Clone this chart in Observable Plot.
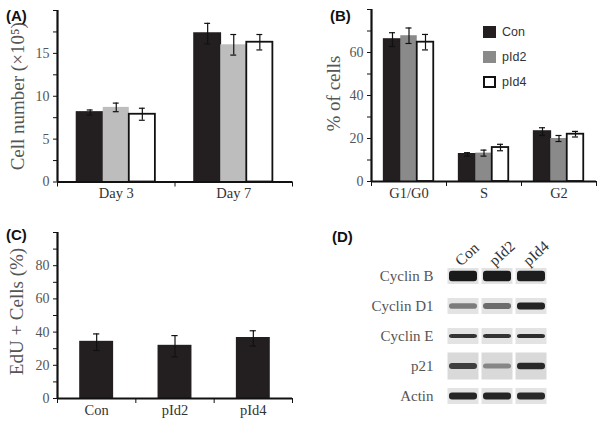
<!DOCTYPE html>
<html><head><meta charset="utf-8">
<script src="https://cdn.jsdelivr.net/npm/d3@7"></script>
<script src="https://cdn.jsdelivr.net/npm/@observablehq/plot@0.6"></script>
<style>
html,body{margin:0;padding:0;background:#fff;}
#root{position:relative;width:604px;height:430px;overflow:hidden;background:#fff;}
.panel{position:absolute;}
.panel svg{display:block;overflow:visible;}
.panel svg [aria-label^="y-axis"] text, .panel svg [aria-label^="x-axis"] text{fill:#555;}
.tag{position:absolute;font:bold 15px "Liberation Sans",Arial,sans-serif;color:#111;line-height:1;}
.legend{position:absolute;font:12.5px "Liberation Sans",Arial,sans-serif;color:#333;}
.legend .item{display:flex;align-items:center;height:25px;}
.legend .sw{width:13px;height:12px;margin-right:6px;box-sizing:border-box;}
</style></head><body><div id="root"></div>
<script>
// ---------- data ----------
const seriesNames = ["Con", "pId2", "pId4"];

// (A) Cell number (x10^5)
const groupsA = ["Day 3", "Day 7"];
const conA = [8.1, 17.3];
const pId2A = [8.7, 16.0];
const pId4A = [7.9, 16.3];
const conAErr = [0.3, 1.2];
const pId2AErr = [0.5, 1.2];
const pId4AErr = [0.7, 0.9];
const ticksA = [0, 5, 10, 15];

// (B) % of cells
const groupsB = ["G1/G0", "S", "G2"];
const conB = [66.0, 12.6, 23.2];
const pId2B = [67.8, 13.2, 20.0];
const pId4B = [64.8, 15.8, 22.0];
const conBErr = [3.2, 0.8, 1.8];
const pId2BErr = [3.6, 1.4, 1.4];
const pId4BErr = [3.6, 1.5, 1.3];
const ticksB = [0, 20, 40, 60];

// (C) EdU + cells (%)
const groupsC = ["Con", "pId2", "pId4"];
const eduC = [33.9, 31.5, 36.2];
const eduCErr = [5.0, 6.4, 4.6];
const ticksC = [0, 20, 40, 60, 80];

// (D) western blot, relative band density
const blotRows = ["Cyclin B", "Cyclin D1", "Cyclin E", "p21", "Actin"];
const blotLanes = ["Con", "pId2", "pId4"];
const cyclinB = [0.97, 0.97, 0.95];
const cyclinD1 = [0.5, 0.58, 0.93];
const cyclinE = [0.85, 0.85, 0.88];
const p21 = [0.8, 0.45, 0.9];
const actin = [0.92, 0.92, 0.9];

// ---------- helpers ----------
const SERIF = "'Liberation Serif','Times New Roman',serif";
const root = document.getElementById("root");

function place(el, left, top) {
  const d = document.createElement("div");
  d.className = "panel"; d.style.left = left + "px"; d.style.top = top + "px";
  d.appendChild(el); root.appendChild(d);
}
function tag(text, left, top) {
  const d = document.createElement("div");
  d.className = "tag"; d.textContent = text;
  d.style.left = left + "px"; d.style.top = top + "px";
  root.appendChild(d);
}
function groupedRows(groups, vals, errs) {
  return groups.flatMap((g, gi) => vals.map((v, si) => ({group: g, gi: gi + 1, si, value: v[gi], err: errs[si][gi]})));
}

function barPanel(o) {
  const n = o.vals.length;
  const rows = groupedRows(o.groups, o.vals, o.errs);
  const cx = d => d.gi + (d.si - (n - 1) / 2) * o.barW;
  const bars = o.vals.map((_, si) => Plot.rect(rows.filter(d => d.si === si), {
    x1: d => cx(d) - o.barW / 2, x2: d => cx(d) + o.barW / 2, y1: 0, y2: "value",
    fill: o.fills[si], stroke: o.strokes[si], strokeWidth: 1.8
  }));
  return Plot.plot({
    width: o.width, height: o.height,
    marginLeft: o.ml, marginRight: o.mr, marginTop: o.mt, marginBottom: o.mb,
    style: {background: "transparent", fontFamily: SERIF, fontSize: "14px", color: "#111", overflow: "visible"},
    x: {domain: [0.5, o.groups.length + 0.5], ticks: d3.range(o.groups.length + 1).map(i => i + 0.5),
        tickFormat: () => "", tickSize: 5, label: null},
    y: {domain: [0, o.yMax], ticks: d3.range(0, o.yMax + 1e-9, o.yStep),
        tickFormat: d => o.labelTicks.includes(d) ? String(d) : "", tickSize: 4, tickPadding: 4, label: null},
    marks: [
      ...bars,
      Plot.ruleX(rows, {x: cx, y1: d => d.value - d.err, y2: d => d.value + d.err, stroke: "#111", strokeWidth: 1.2}),
      Plot.ruleY(rows, {y: d => d.value + d.err, x1: d => cx(d) - o.cap, x2: d => cx(d) + o.cap, stroke: "#111", strokeWidth: 1.2}),
      Plot.ruleY(rows, {y: d => d.value - d.err, x1: d => cx(d) - o.cap, x2: d => cx(d) + o.cap, stroke: "#111", strokeWidth: 1.2}),
      Plot.ruleY([0], {stroke: "#111", strokeWidth: 2.2}),
      Plot.ruleX([0.5], {stroke: "#111", strokeWidth: 2.2}),
      Plot.text(o.groups, {x: (d, i) => i + 1, text: d => d, frameAnchor: "bottom", dy: o.labelDy,
        fontSize: 14.5, fill: "#333"}),
      Plot.text([o.yTitle], {text: d => d, frameAnchor: "left", textAnchor: "middle", rotate: -90,
        dx: o.titleDx, dy: o.titleDy || 0, fontSize: 19, fill: "#555"})
    ]
  });
}

// (A)
place(barPanel({
  groups: groupsA, vals: [conA, pId2A, pId4A], errs: [conAErr, pId2AErr, pId4AErr],
  barW: 0.222, cap: 0.025, yMax: 20, yStep: 2.5, labelTicks: ticksA,
  fills: ["#231f20", "#bdbdbd", "#ffffff"], strokes: ["#231f20", "none", "#111"],
  width: 300, height: 215, ml: 57, mr: 8, mt: 10, mb: 33.5, labelDy: 16,
  yTitle: "Cell number (×10⁵)", titleDx: -40
}), 0, 0);
tag("(A)", 6, 8);

// (B)
place(barPanel({
  groups: groupsB, vals: [conB, pId2B, pId4B], errs: [conBErr, pId2BErr, pId4BErr],
  barW: 0.22, cap: 0.04, yMax: 80, yStep: 10, labelTicks: ticksB,
  fills: ["#231f20", "#8a8a8a", "#ffffff"], strokes: ["#231f20", "none", "#111"],
  width: 304, height: 215, ml: 71, mr: 8, mt: 9, mb: 34, labelDy: 16,
  yTitle: "% of cells", titleDx: -38, titleDy: -2
}), 300, 0);
tag("(B)", 330, 8);

// legend for (B)
(function () {
  const lg = document.createElement("div");
  lg.className = "legend"; lg.style.left = "483px"; lg.style.top = "19px";
  const sw = [["#231f20", "none"], ["#8a8a8a", "none"], ["#ffffff", "2px solid #111"]];
  seriesNames.forEach((s, i) => {
    const it = document.createElement("div"); it.className = "item";
    const b = document.createElement("span"); b.className = "sw";
    b.style.background = sw[i][0]; b.style.border = sw[i][1];
    const t = document.createElement("span"); t.textContent = s;
    it.appendChild(b); it.appendChild(t); lg.appendChild(it);
  });
  root.appendChild(lg);
})();

// (C)
place(barPanel({
  groups: groupsC, vals: [eduC], errs: [eduCErr],
  barW: 0.41, cap: 0.04, yMax: 100, yStep: 10, labelTicks: ticksC,
  fills: ["#231f20"], strokes: ["#231f20"],
  width: 300, height: 215, ml: 57, mr: 8, mt: 17, mb: 32, labelDy: 16,
  yTitle: "EdU + Cells (%)", titleDx: -41, titleDy: -4
}), 0, 215);
tag("(C)", 6, 227);

// (D)
(function () {
  const levels = [cyclinB, cyclinD1, cyclinE, p21, actin];
  const bands = blotRows.flatMap((r, ri) => blotLanes.map((l, li) => ({row: r, lane: l, level: levels[ri][li]})));
  const rowThick = {"Cyclin B": 11, "Cyclin D1": 7.5, "Cyclin E": 4.5, "p21": 7, "Actin": 7.5};
  const step = (215 - 45 - 19) / blotRows.length;
  const bandMarks = bands.map(b => {
    const th = rowThick[b.row] * (0.55 + 0.45 * b.level);
    const ins = (step - th) / 2;
    return Plot.cell([b], {x: "lane", y: "row", fill: "level", insetTop: ins, insetBottom: ins,
      insetLeft: 3, insetRight: 3, rx: 3});
  });
  const svg = Plot.plot({
    width: 304, height: 215, marginLeft: 146, marginRight: 56, marginTop: 45, marginBottom: 19,
    style: {background: "transparent", fontFamily: SERIF, fontSize: "15px", color: "#222", overflow: "visible"},
    x: {domain: blotLanes, padding: 0, axis: null},
    y: {domain: blotRows, padding: 0, tickSize: 0, tickPadding: 13, label: null},
    color: {type: "linear", domain: [0, 1], range: ["#e4e4e4", "#141414"]},
    marks: [
      Plot.cell(bands.filter(d => d.row !== "p21"), {x: "lane", y: "row", fill: "#e3e3e3",
        insetTop: 7, insetBottom: 7, insetLeft: 1.5, insetRight: 1.5}),
      Plot.cell(bands.filter(d => d.row === "p21"), {x: "lane", y: "row", fill: "#d9d9d9",
        insetTop: 1.5, insetBottom: 1.5, insetLeft: 1.5, insetRight: 1.5}),
      ...bandMarks,
      Plot.text(blotLanes, {x: d => d, text: d => d, frameAnchor: "top", rotate: -42, textAnchor: "start",
        dx: -10, dy: -2, fontSize: 15.5, fill: "#333"})
    ]
  });
  place(svg, 300, 215);
  tag("(D)", 332, 229);
})();
</script></body></html>
